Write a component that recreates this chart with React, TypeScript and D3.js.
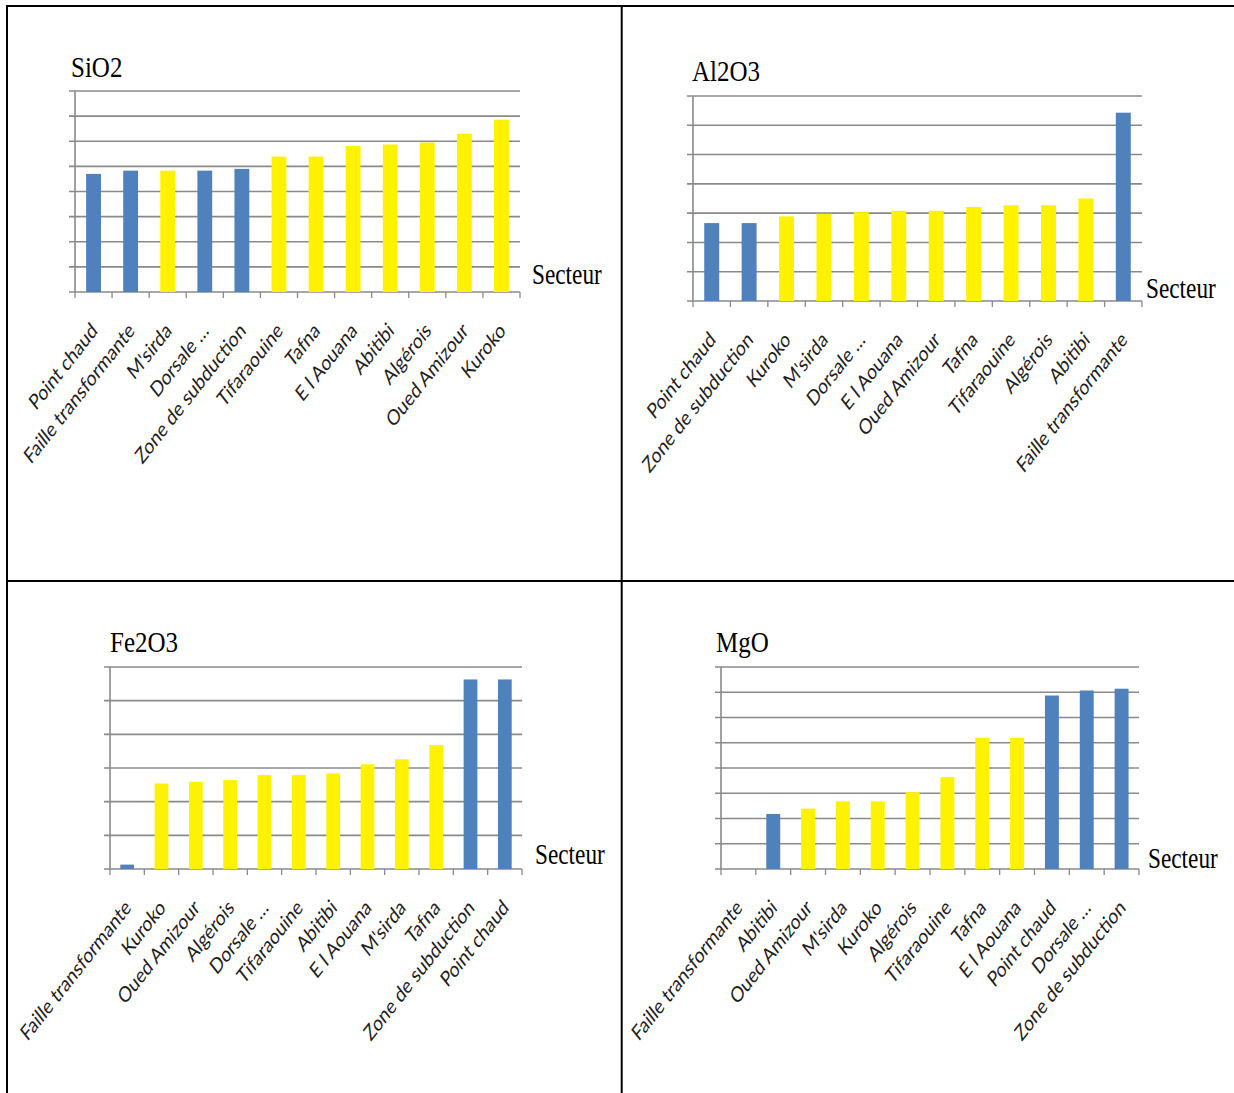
import React from 'react';
import * as d3 from 'd3';

// ---- Data: SiO2 ----
const sio2Categories = ['Point chaud', 'Faille transformante', "M'sirda", 'Dorsale …', 'Zone de subduction', 'Tifaraouine', 'Tafna', 'E l Aouana', 'Abitibi', 'Algérois', 'Oued Amizour', 'Kuroko'];
const sio2Values = [47.0, 48.3, 48.3, 48.3, 49.0, 53.9, 53.9, 58.1, 58.7, 59.5, 63.0, 68.6];
const sio2Groups = ['contexte', 'contexte', 'gisement', 'contexte', 'contexte', 'gisement', 'gisement', 'gisement', 'gisement', 'gisement', 'gisement', 'gisement'];

// ---- Data: Al2O3 ----
const al2o3Categories = ['Point chaud', 'Zone de subduction', 'Kuroko', "M'sirda", 'Dorsale …', 'E l Aouana', 'Oued Amizour', 'Tafna', 'Tifaraouine', 'Algérois', 'Abitibi', 'Faille transformante'];
const al2o3Values = [13.3, 13.3, 14.45, 14.9, 15.15, 15.4, 15.4, 16.05, 16.35, 16.35, 17.5, 32.15];
const al2o3Groups = ['contexte', 'contexte', 'gisement', 'gisement', 'gisement', 'gisement', 'gisement', 'gisement', 'gisement', 'gisement', 'gisement', 'contexte'];

// ---- Data: Fe2O3 ----
const fe2o3Categories = ['Faille transformante', 'Kuroko', 'Oued Amizour', 'Algérois', 'Dorsale …', 'Tifaraouine', 'Abitibi', 'E l Aouana', "M'sirda", 'Tafna', 'Zone de subduction', 'Point chaud'];
const fe2o3Values = [0.26, 5.08, 5.18, 5.28, 5.58, 5.58, 5.68, 6.22, 6.52, 7.36, 11.26, 11.26];
const fe2o3Groups = ['contexte', 'gisement', 'gisement', 'gisement', 'gisement', 'gisement', 'gisement', 'gisement', 'gisement', 'gisement', 'contexte', 'contexte'];

// ---- Data: MgO ----
const mgoCategories = ['Faille transformante', 'Abitibi', 'Oued Amizour', "M'sirda", 'Kuroko', 'Algérois', 'Tifaraouine', 'Tafna', 'E l Aouana', 'Point chaud', 'Dorsale …', 'Zone de subduction'];
const mgoValues = [0, 4.36, 4.78, 5.36, 5.36, 6.08, 7.28, 10.4, 10.4, 13.74, 14.14, 14.28];
const mgoGroups = ['contexte', 'contexte', 'gisement', 'gisement', 'gisement', 'gisement', 'gisement', 'gisement', 'gisement', 'contexte', 'contexte', 'contexte'];

// Value axes (no tick labels are printed, only gridlines)
const sio2Axis = { max: 80, step: 10 };
const al2o3Axis = { max: 35, step: 5 };
const fe2o3Axis = { max: 12, step: 2 };
const mgoAxis = { max: 16, step: 2 };

const groupColor = d3.scaleOrdinal<string, string>()
  .domain(['contexte', 'gisement'])
  .range(['#4F81BD', '#FFF200']);

const GRID = '#8a8a8a';
const TEXT_STRETCH = 1.27;
const TITLE_STRETCH = 1.2;

type Panel = {
  title: string;
  categories: string[];
  values: number[];
  groups: string[];
  axis: { max: number; step: number };
  box: { left: number; right: number; top: number; bottom: number };
  titlePos: [number, number];
  secteurPos: [number, number];
};

const panels: Panel[] = [
  {
    title: 'SiO2', categories: sio2Categories, values: sio2Values, groups: sio2Groups, axis: sio2Axis,
    box: { left: 75, right: 520, top: 91, bottom: 292 }, titlePos: [71, 77], secteurPos: [532, 284],
  },
  {
    title: 'Al2O3', categories: al2o3Categories, values: al2o3Values, groups: al2o3Groups, axis: al2o3Axis,
    box: { left: 693, right: 1142, top: 96, bottom: 301 }, titlePos: [692, 81], secteurPos: [1146, 298],
  },
  {
    title: 'Fe2O3', categories: fe2o3Categories, values: fe2o3Values, groups: fe2o3Groups, axis: fe2o3Axis,
    box: { left: 110, right: 522, top: 667, bottom: 869 }, titlePos: [110, 652], secteurPos: [535, 864],
  },
  {
    title: 'MgO', categories: mgoCategories, values: mgoValues, groups: mgoGroups, axis: mgoAxis,
    box: { left: 721, right: 1139, top: 667, bottom: 869 }, titlePos: [716, 652], secteurPos: [1148, 868],
  },
];

function BarPanel({ p }: { p: Panel }) {
  const { left, right, top, bottom } = p.box;
  const x = d3.scaleBand<string>()
    .domain(p.categories)
    .range([left, right])
    .paddingInner(0.6)
    .paddingOuter(0.3);
  const y = d3.scaleLinear().domain([0, p.axis.max]).range([bottom, top]);
  const ticks = d3.range(0, p.axis.max + p.axis.step / 2, p.axis.step);
  const step = x.step();
  const bounds = d3.range(p.categories.length + 1).map((i) => left + i * step);

  return (
    <g>
      {/* horizontal gridlines with small left ticks */}
      {ticks.map((t) => (
        <line key={'g' + t} x1={left - 6} x2={right} y1={y(t)} y2={y(t)} stroke={GRID} strokeWidth={1.6} />
      ))}
      {/* value axis */}
      <line x1={left} x2={left} y1={top} y2={bottom} stroke={GRID} strokeWidth={1.6} />
      {/* category ticks */}
      {bounds.map((bx, i) => (
        <line key={'t' + i} x1={bx} x2={bx} y1={bottom} y2={bottom + 6} stroke={GRID} strokeWidth={1.3} />
      ))}
      {/* bars */}
      {p.categories.map((c, i) => (
        p.values[i] > 0 ? (
          <rect key={'b' + i} x={x(c)} width={x.bandwidth()} y={y(p.values[i])}
            height={bottom - y(p.values[i])} fill={groupColor(p.groups[i])} />
        ) : null
      ))}
      {/* category labels */}
      {p.categories.map((c, i) => {
        const cx = (x(c) as number) + x.bandwidth() / 2;
        return (
          <text key={'l' + i}
            transform={`translate(${cx + 5},${bottom + 40}) scale(1,${TEXT_STRETCH}) rotate(-45)`}
            textAnchor="end" fontFamily="Lato, 'Open Sans', sans-serif" fontSize={17} fill="#1e1e1e">
            {c}
          </text>
        );
      })}
      {/* title */}
      <text transform={`translate(${p.titlePos[0]},${p.titlePos[1]}) scale(1,${TITLE_STRETCH})`}
        fontFamily="'Liberation Serif', 'Times New Roman', serif" fontSize={25} fill="#000">
        {p.title}
      </text>
      {/* category axis title */}
      <text transform={`translate(${p.secteurPos[0]},${p.secteurPos[1]}) scale(0.97,${TITLE_STRETCH})`}
        fontFamily="'Liberation Serif', 'Times New Roman', serif" fontSize={24} fill="#000">
        Secteur
      </text>
    </g>
  );
}

export default function App() {
  const W = 1234;
  const H = 1093;
  return (
    <svg width={W} height={H} style={{ position: 'absolute', left: 0, top: 0, background: '#fff' }}>
      <rect x={0} y={0} width={W} height={H} fill="#fff" />
      {panels.map((p) => <BarPanel key={p.title} p={p} />)}
      {/* table borders */}
      <g stroke="#000" strokeWidth={2}>
        <line x1={7} x2={7} y1={5} y2={H} />
        <line x1={6} x2={W} y1={6} y2={6} />
        <line x1={621.7} x2={621.7} y1={5} y2={H} />
        <line x1={6} x2={W} y1={581} y2={581} />
      </g>
    </svg>
  );
}
